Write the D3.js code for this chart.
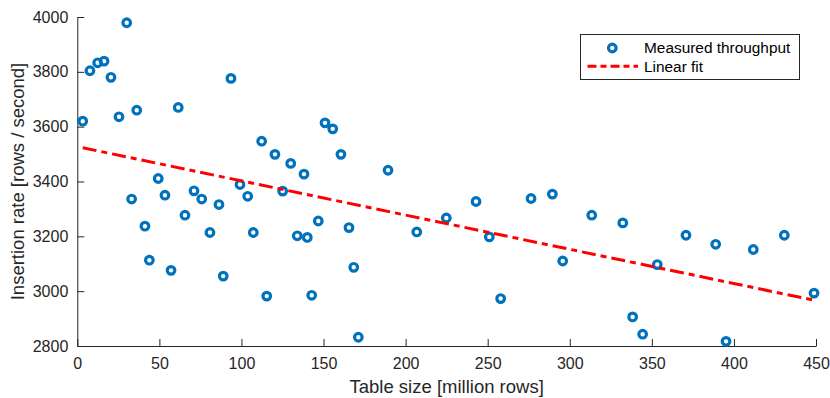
<!DOCTYPE html>
<html>
<head>
<meta charset="utf-8">
<script src="https://cdn.jsdelivr.net/npm/d3@7"></script>
<style>
  html, body { margin: 0; padding: 0; background: #fff; }
  svg { display: block; font-family: "Liberation Sans", Arial, Helvetica, sans-serif; }
</style>
</head>
<body>
<svg id="chart" width="830" height="398"></svg>
<script>
// table size in million rows, insertion rate in rows / second
const tableSize = [
  3.3, 7.7, 12.4, 16.3, 20.5, 30.1, 25.4, 36.2, 33.1, 41.2,
  43.9, 49.3, 53.4, 57.1, 61.5, 65.6, 71.1, 75.8, 80.8, 86.3,
  88.9, 93.6, 99.1, 103.8, 107.2, 112.3, 115.4, 120.4, 125.1, 130.0,
  134.0, 138.1, 140.1, 142.8, 146.8, 150.9, 155.6, 160.6, 165.5, 168.4,
  171.2, 189.3, 206.8, 224.8, 242.9, 251.0, 257.9, 276.4, 289.4, 295.7,
  313.4, 332.3, 338.3, 344.4, 353.3, 370.8, 388.9, 395.2, 411.8, 430.7,
  448.8
];
const insertRate = [
  3620, 3804, 3833, 3839, 3780, 3979, 3636, 3660, 3336, 3237,
  3113, 3411, 3350, 3076, 3670, 3277, 3366, 3336, 3214, 3316,
  3055, 3776, 3389, 3346, 3214, 3547, 2982, 3499, 3365, 3466,
  3202, 3427, 3196, 2985, 3256, 3614, 3592, 3499, 3232, 3087,
  2832, 3441, 3216, 3267, 3327, 3198, 2973, 3338, 3354, 3110,
  3277, 3249, 2906, 2843, 3097, 3204, 3171, 2817, 3152, 3204,
  2993
];
// end points of the linear fit
const fitX = [3.3, 448.8];
const fitY = [3523, 2967];

const xTicks = [0, 50, 100, 150, 200, 250, 300, 350, 400, 450];
const yTicks = [2800, 3000, 3200, 3400, 3600, 3800, 4000];

const axisColor = "#262626";
const blue = "#0072BD";
const red = "#FF0000";

const svg = d3.select("#chart");

const x = d3.scaleLinear().domain([0, 450]).range([77.3, 816]);
const y = d3.scaleLinear().domain([2800, 4000]).range([346, 17]);

const xAxis = svg.append("g")
  .attr("transform", `translate(0,${y(2800)})`)
  .call(d3.axisBottom(x).tickValues(xTicks).tickFormat(d3.format("d"))
    .tickSizeInner(-7).tickSizeOuter(0).tickPadding(12));
const yAxis = svg.append("g")
  .attr("transform", `translate(${x(0)},0)`)
  .call(d3.axisLeft(y).tickValues(yTicks).tickFormat(d3.format("d"))
    .tickSizeInner(-7).tickSizeOuter(0).tickPadding(9));

[xAxis, yAxis].forEach((ax) => {
  ax.attr("font-family", null).attr("font-size", 16);
  ax.select(".domain").attr("stroke", axisColor).attr("stroke-width", 1);
  ax.selectAll(".tick line").attr("stroke", axisColor).attr("stroke-width", 1);
  ax.selectAll(".tick text").attr("fill", axisColor);
});

svg.append("text")
  .attr("x", (x(0) + x(450)) / 2)
  .attr("y", 393)
  .attr("text-anchor", "middle")
  .attr("font-size", 18.5)
  .attr("fill", axisColor)
  .text("Table size [million rows]");

svg.append("text")
  .attr("transform", `translate(24,${(y(2800) + y(4000)) / 2}) rotate(-90)`)
  .attr("text-anchor", "middle")
  .attr("font-size", 18.5)
  .attr("fill", axisColor)
  .text("Insertion rate [rows / second]");

// measured points
svg.append("g")
  .selectAll("circle")
  .data(tableSize.map((d, i) => [d, insertRate[i]]))
  .join("circle")
  .attr("cx", (d) => x(d[0]))
  .attr("cy", (d) => y(d[1]))
  .attr("r", 3.8)
  .attr("fill", "none")
  .attr("stroke", blue)
  .attr("stroke-width", 3.2);

// linear fit
svg.append("path")
  .datum(fitX.map((d, i) => [d, fitY[i]]))
  .attr("d", d3.line().x((d) => x(d[0])).y((d) => y(d[1])))
  .attr("fill", "none")
  .attr("stroke", red)
  .attr("stroke-width", 3)
  .attr("stroke-dasharray", "14,5,6,5");

// legend
const legend = svg.append("g");
legend.append("rect")
  .attr("x", 580.5).attr("y", 34.5)
  .attr("width", 219).attr("height", 45)
  .attr("fill", "#fff")
  .attr("stroke", axisColor)
  .attr("stroke-width", 1);
legend.append("circle")
  .attr("cx", 612.3).attr("cy", 48)
  .attr("r", 3.8)
  .attr("fill", "none")
  .attr("stroke", blue)
  .attr("stroke-width", 3.2);
legend.append("line")
  .attr("x1", 587.5).attr("x2", 638)
  .attr("y1", 66.3).attr("y2", 66.3)
  .attr("stroke", red)
  .attr("stroke-width", 3)
  .attr("stroke-dasharray", "9,4,6,4");
legend.selectAll("text.lab")
  .data(["Measured throughput", "Linear fit"])
  .join("text")
  .attr("class", "lab")
  .attr("x", 644)
  .attr("y", (d, i) => 53.3 + i * 19)
  .attr("font-size", 15.4)
  .attr("fill", "#000")
  .text((d) => d);
</script>
</body>
</html>
